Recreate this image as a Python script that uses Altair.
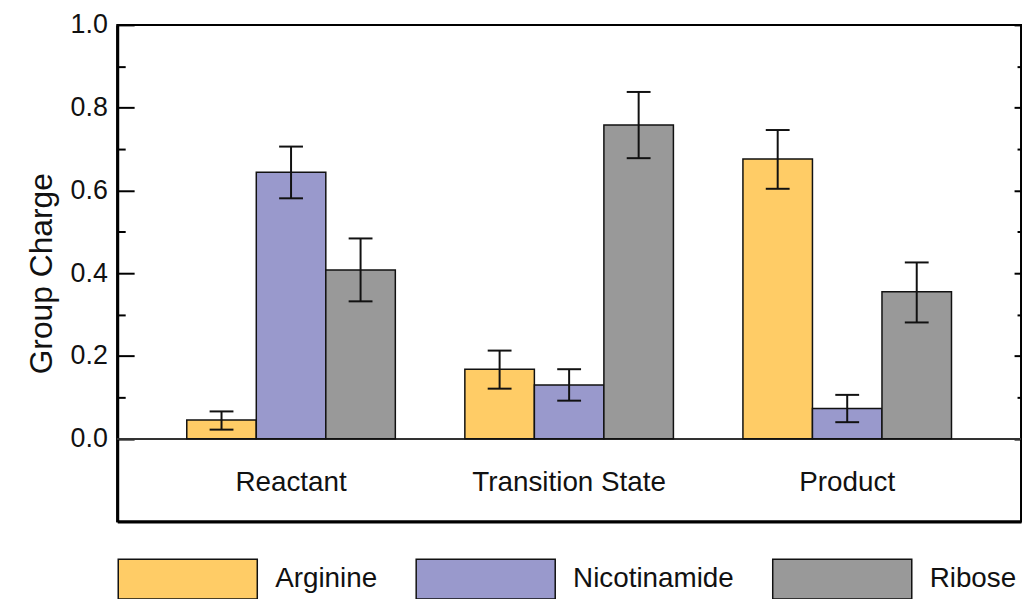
import altair as alt
import pandas as pd

states = ["Reactant", "Transition State", "Product"]
groups = ["Arginine", "Nicotinamide", "Ribose"]
colors = ["#FFCC66", "#9999CC", "#999999"]

arginine = [0.045, 0.168, 0.676]
arginine_lo = [0.022, 0.121, 0.604]
arginine_hi = [0.066, 0.213, 0.746]
nicotinamide = [0.644, 0.130, 0.073]
nicotinamide_lo = [0.581, 0.092, 0.040]
nicotinamide_hi = [0.706, 0.168, 0.106]
ribose = [0.408, 0.758, 0.355]
ribose_lo = [0.332, 0.678, 0.281]
ribose_hi = [0.484, 0.838, 0.426]

y_major = [0.0, 0.2, 0.4, 0.6, 0.8, 1.0]
y_minor = [0.1, 0.3, 0.5, 0.7, 0.9]

series = {
    "Arginine": (arginine, arginine_lo, arginine_hi),
    "Nicotinamide": (nicotinamide, nicotinamide_lo, nicotinamide_hi),
    "Ribose": (ribose, ribose_lo, ribose_hi),
}
rows = []
for g in groups:
    v, lo, hi = series[g]
    for i, s in enumerate(states):
        rows.append({"state": s, "group": g, "value": v[i], "lo": lo[i], "hi": hi[i]})
df = pd.DataFrame(rows)

FONT = "Liberation Sans"
ys = alt.Scale(domain=[-0.2, 1.0], nice=False, zero=False)

x_axis = alt.Axis(orient="bottom", domain=True, domainWidth=3, domainColor="black",
                  ticks=False, labelPadding=-53, labelFontSize=28, labelAngle=0,
                  labelColor="#111", labelFont=FONT, labelBaseline="top", grid=False,
                  labelLimit=400)
x_enc = alt.X("state:N", sort=states, title=None, axis=x_axis,
              scale=alt.Scale(paddingInner=0.25, paddingOuter=0.25))
xo_enc = alt.XOffset("group:N", sort=groups, scale=alt.Scale(paddingInner=0, paddingOuter=0))

axis_left_major = alt.Axis(orient="left", values=y_major, format=".1f", offset=-17, tickSize=17,
                           tickWidth=2, tickColor="black", domain=False, grid=False,
                           labelPadding=10, labelFontSize=27, labelColor="#111", labelFont=FONT,
                           titleFontSize=32, titleFontWeight="normal", titlePadding=12,
                           titleColor="#111", titleFont=FONT)
axis_left_minor = alt.Axis(orient="left", values=y_minor, offset=-8, tickSize=8, tickWidth=2,
                           tickColor="black", labels=False, domain=False, grid=False)
axis_right_major = alt.Axis(orient="right", values=y_major, offset=-7, tickSize=7, tickWidth=2,
                            tickColor="black", labels=False, domain=False, grid=False)
axis_right_minor = alt.Axis(orient="right", values=y_minor, offset=-4, tickSize=4, tickWidth=2,
                            tickColor="black", labels=False, domain=False, grid=False)
axis_left_domain = alt.Axis(orient="left", domain=True, domainWidth=3, domainColor="black",
                            ticks=False, labels=False, grid=False, values=y_major)

base = alt.Chart(df)

zero_line = alt.Chart(df).mark_rule(color="#333333", strokeWidth=1.5).encode(
    y=alt.YDatum(0, type="quantitative", scale=ys, axis=axis_left_domain, title=None)
)

bars = base.mark_bar(stroke="#111111", strokeWidth=1.5).encode(
    x=x_enc,
    xOffset=xo_enc,
    y=alt.Y("value:Q", scale=ys, axis=axis_left_major, stack=None, title="Group Charge"),
    color=alt.Color("group:N", sort=groups, scale=alt.Scale(domain=groups, range=colors),
                    legend=alt.Legend(orient="none", legendX=0, legendY=487, direction="horizontal",
                                      title=None, symbolType="M-1,-0.2857H1V0.2857H-1Z",
                                      symbolSize=19600, symbolStrokeColor="#111111",
                                      symbolStrokeWidth=1.5, symbolOpacity=1,
                                      labelFontSize=28, labelOffset=17, columnPadding=36,
                                      labelLimit=400, padding=0, labelColor="#111",
                                      labelFont=FONT)),
)

err = base.mark_rule(strokeWidth=2, color="#111111").encode(
    x=x_enc, xOffset=xo_enc,
    y=alt.Y("lo:Q", scale=ys, axis=axis_left_minor, title=None),
    y2="hi:Q",
)
cap_hi = base.mark_tick(thickness=2, size=24, color="#111111", opacity=1).encode(
    x=x_enc, xOffset=xo_enc,
    y=alt.Y("hi:Q", scale=ys, axis=axis_right_major, title=None),
)
cap_lo = base.mark_tick(thickness=2, size=24, color="#111111", opacity=1).encode(
    x=x_enc, xOffset=xo_enc,
    y=alt.Y("lo:Q", scale=ys, axis=axis_right_minor, title=None),
)

chart = alt.layer(zero_line, bars, err, cap_hi, cap_lo).resolve_axis(y="independent").properties(
    width=910, height=500,
    autosize=alt.AutoSizeParams(type="none"),
    padding={"left": 110, "top": 15, "right": 2, "bottom": 76},
).configure(font=FONT).configure_view(stroke="black", strokeWidth=2)

chart.save("out.html", embed_options={"renderer": "svg", "actions": False})
